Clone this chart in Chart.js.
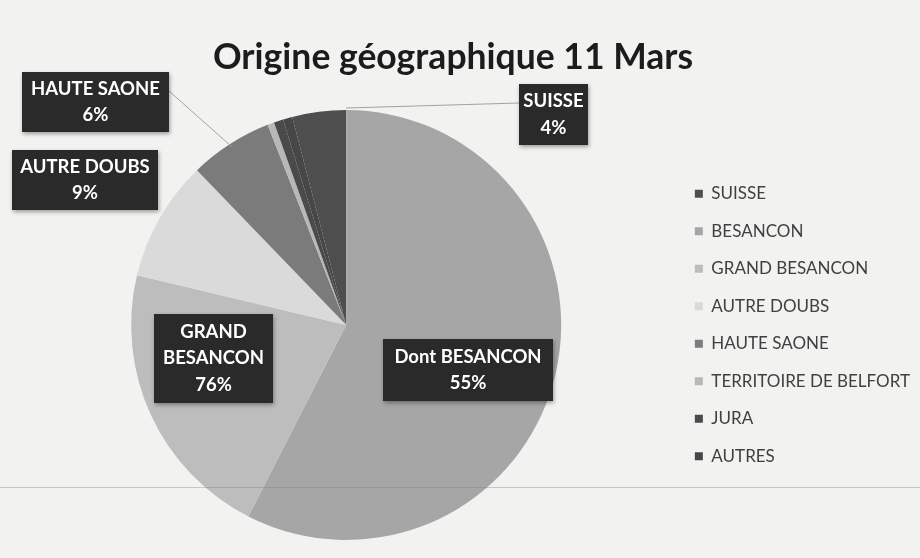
<!DOCTYPE html>
<html>
<head>
<meta charset="utf-8">
<script src="https://cdn.jsdelivr.net/npm/chart.js@4.4.1/dist/chart.umd.min.js"></script>
<style>
  html, body { margin: 0; padding: 0; background: #f2f2f1; }
  #wrap { width: 920px; height: 558px; position: relative; }
</style>
</head>
<body>
<div id="wrap"><canvas id="pie" width="920" height="558"></canvas></div>
<script>
// data (slice sizes), legend order as in the original
const categories = ['SUISSE', 'BESANCON', 'GRAND BESANCON', 'AUTRE DOUBS', 'HAUTE SAONE', 'TERRITOIRE DE BELFORT', 'JURA', 'AUTRES'];
const shares = [4, 57, 21, 9, 6.2, 0.5, 0.7, 0.7];
const sliceColours = ['#4e4e4e', '#a6a6a6', '#bdbdbd', '#dadada', '#7b7b7b', '#b8b8b8', '#4a4a4a', '#474747'];
const chartTitle = 'Origine géographique 11 Mars';

// callout boxes typed in the original chart
const calloutSlices = [0, 1, 2, 3, 4];
const calloutNames = [['SUISSE'], ['Dont BESANCON'], ['GRAND', 'BESANCON'], ['AUTRE DOUBS'], ['HAUTE SAONE']];
const calloutPercents = ['4%', '55%', '76%', '9%', '6%'];
const calloutLeader = [true, false, false, false, true];

// box placement (layout only)
const calloutBoxes = [
  { x: 519, y: 84, w: 69, h: 61 },
  { x: 383, y: 339, w: 170, h: 62 },
  { x: 154, y: 314, w: 119, h: 89 },
  { x: 12, y: 150, w: 146, h: 60 },
  { x: 22, y: 72, w: 147, h: 60 },
];

const total = shares.reduce((a, b) => a + b, 0);

const backdrop = {
  id: 'backdrop',
  beforeDraw(chart) {
    const { ctx, width, height } = chart;
    ctx.save();
    ctx.fillStyle = '#f2f2f1';
    ctx.fillRect(0, 0, width, height);
    ctx.fillStyle = '#1c1c1c';
    ctx.font = 'bold 35.5px Lato';
    ctx.textAlign = 'center';
    ctx.textBaseline = 'middle';
    ctx.fillText(chartTitle, 453, 58);
    ctx.restore();
  },
  afterDraw(chart) {
    const { ctx, width } = chart;
    // faint fold line across the scan
    ctx.save();
    ctx.strokeStyle = 'rgba(120,120,120,0.35)';
    ctx.lineWidth = 1;
    ctx.beginPath();
    ctx.moveTo(0, 487.5);
    ctx.lineTo(width, 487.5);
    ctx.stroke();
    ctx.restore();
  },
};

const callouts = {
  id: 'callouts',
  afterDraw(chart) {
    const { ctx } = chart;
    const arcs = chart.getDatasetMeta(0).data;
    ctx.save();
    calloutSlices.forEach((idx, i) => {
      const box = calloutBoxes[i];
      const arc = arcs[idx];
      if (calloutLeader[i]) {
        const { x, y, startAngle, endAngle, outerRadius } = arc.getProps(['x', 'y', 'startAngle', 'endAngle', 'outerRadius'], true);
        let px, py;
        if (idx === 0) {
          // SUISSE: line runs to the top of the pie where the slice ends
          px = x + Math.cos(endAngle) * (outerRadius + 2);
          py = y + Math.sin(endAngle) * (outerRadius + 2);
        } else {
          const mid = (startAngle + endAngle) / 2;
          px = x + Math.cos(mid) * (outerRadius - 3);
          py = y + Math.sin(mid) * (outerRadius - 3);
        }
        const bx = px > box.x + box.w ? box.x + box.w : box.x;
        const by = box.y + 19;
        ctx.strokeStyle = '#a3a3a3';
        ctx.lineWidth = 1;
        ctx.beginPath();
        ctx.moveTo(bx, by);
        ctx.lineTo(px, py);
        ctx.stroke();
      }
      ctx.shadowColor = 'rgba(0,0,0,0.35)';
      ctx.shadowBlur = 4;
      ctx.shadowOffsetX = 1;
      ctx.shadowOffsetY = 2;
      ctx.fillStyle = '#2a2a2a';
      ctx.fillRect(box.x, box.y, box.w, box.h);
      ctx.shadowColor = 'transparent';
      const lines = calloutNames[i].concat([calloutPercents[i]]);
      const lh = 26.5;
      const cy = box.y + box.h / 2 - (lines.length - 1) * lh / 2;
      ctx.fillStyle = '#ffffff';
      ctx.font = 'bold 18.5px Lato';
      ctx.textAlign = 'center';
      ctx.textBaseline = 'middle';
      lines.forEach((t, k) => ctx.fillText(t, box.x + box.w / 2, cy + k * lh));
    });
    ctx.restore();
  },
};

new Chart(document.getElementById('pie'), {
  type: 'pie',
  data: {
    labels: categories,
    datasets: [{
      data: shares,
      backgroundColor: sliceColours,
      borderWidth: 0,
    }],
  },
  options: {
    responsive: false,
    animation: false,
    events: [],
    rotation: -360 * shares[0] / total,
    layout: { padding: { left: 18, right: 0, top: 110, bottom: 18 } },
    plugins: {
      title: { display: false },
      legend: {
        position: 'right',
        fullSize: false,
        labels: {
          color: '#404040',
          font: { family: 'Lato', size: 17 },
          boxWidth: 8,
          boxHeight: 8,
          padding: 20.5,
        },
      },
      tooltip: { enabled: false },
    },
  },
  plugins: [backdrop, callouts],
});
</script>
</body>
</html>
